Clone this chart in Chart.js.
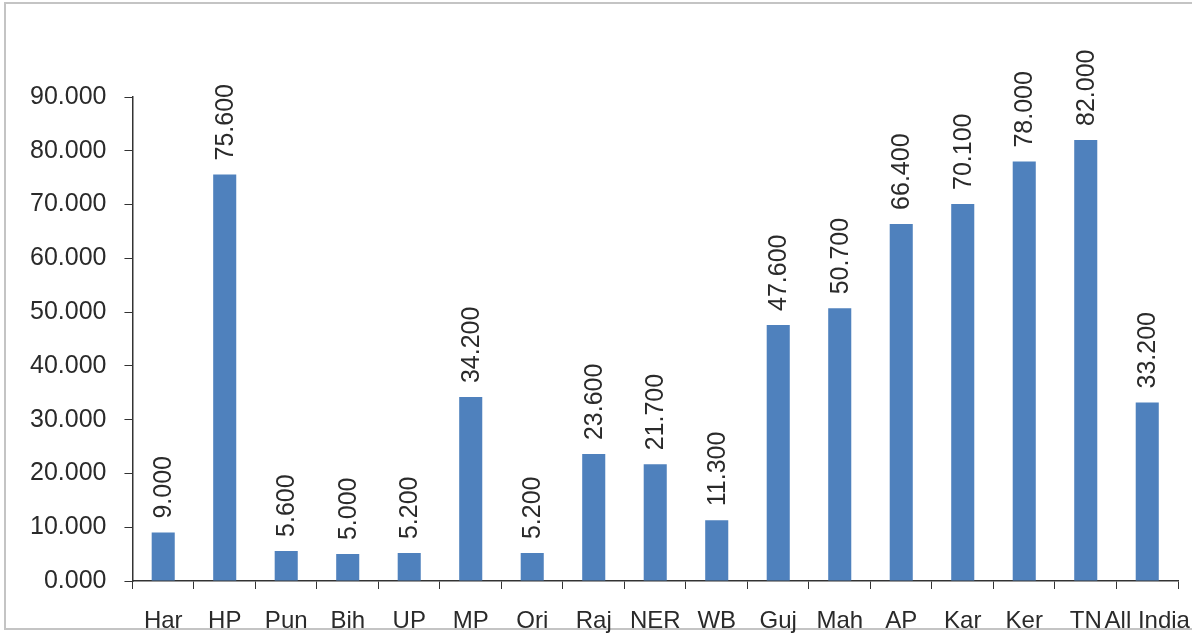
<!DOCTYPE html>
<html>
<head>
<meta charset="utf-8">
<script src="https://cdn.jsdelivr.net/npm/chart.js@4/dist/chart.umd.min.js"></script>
<style>
  body { margin: 0; background: #fff; }
  #frame { position: absolute; left: 4px; top: 2px; width: 1200px; height: 628px; border: 2px solid #c4c4c4; box-sizing: border-box; }
  #wrap { position: absolute; left: 0; top: 0; width: 1192px; height: 634px; }
</style>
</head>
<body>
<div id="frame"></div>
<div id="wrap"><canvas id="chart"></canvas></div>
<script>
const states = ["Har", "HP", "Pun", "Bih", "UP", "MP", "Ori", "Raj", "NER", "WB", "Guj", "Mah", "AP", "Kar", "Ker", "TN", "All India"];
const values = [9.0, 75.6, 5.6, 5.0, 5.2, 34.2, 5.2, 23.6, 21.7, 11.3, 47.6, 50.7, 66.4, 70.1, 78.0, 82.0, 33.2];

const FONT = "'Liberation Sans', Arial, sans-serif";

const barLabels = {
  id: "barLabels",
  afterDatasetsDraw(c) {
    const ctx = c.ctx;
    const meta = c.getDatasetMeta(0);
    ctx.save();
    ctx.font = "25px " + FONT;
    ctx.fillStyle = "#2a2a2a";
    ctx.textAlign = "left";
    ctx.textBaseline = "middle";
    meta.data.forEach((bar, i) => {
      ctx.save();
      ctx.translate(bar.x, bar.y - 14);
      ctx.rotate(-Math.PI / 2);
      ctx.fillText(values[i].toFixed(3), 0, 1);
      ctx.restore();
    });
    ctx.restore();
  },
};

new Chart(document.getElementById("chart"), {
  type: "bar",
  data: {
    labels: states,
    datasets: [{
      data: values,
      backgroundColor: "#4f81bd",
      barPercentage: 0.75,
      categoryPercentage: 0.5,
    }],
  },
  options: {
    responsive: true,
    maintainAspectRatio: false,
    animation: false,
    layout: { padding: { top: 97, right: 14, bottom: -19, left: 12 } },
    plugins: { legend: { display: false }, tooltip: { enabled: false } },
    scales: {
      x: {
        afterFit: (s) => { s.paddingRight = 0; },
        grid: { drawOnChartArea: false, drawTicks: true, tickLength: 8, color: "#333", offset: true },
        border: { color: "#333", width: 1.5 },
        ticks: { color: "#2a2a2a", font: { family: FONT, size: 24, lineHeight: 1 }, padding: 20, maxRotation: 0, autoSkip: false },
      },
      y: {
        min: 0,
        max: 90,
        ticks: {
          stepSize: 10,
          color: "#2a2a2a",
          padding: 18,
          font: { family: FONT, size: 25 },
          callback: (v) => v.toFixed(3),
        },
        grid: { drawOnChartArea: false, drawTicks: true, tickLength: 8, color: "#333" },
        border: { color: "#333", width: 1.5 },
      },
    },
  },
  plugins: [barLabels],
});
</script>
</body>
</html>
